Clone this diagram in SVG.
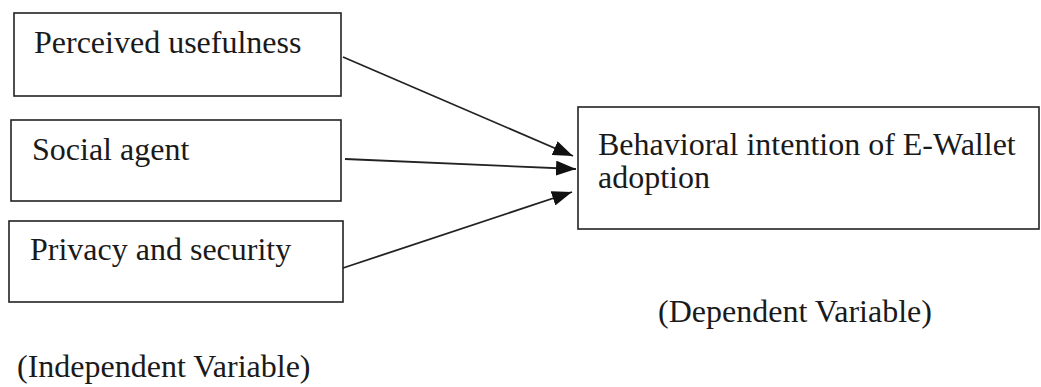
<svg xmlns="http://www.w3.org/2000/svg" width="1041" height="387" viewBox="0 0 1041 387">
<style>
.box{fill:#fff;stroke:#222;stroke-width:1.6}
.t{font-family:"Liberation Serif","Times New Roman",serif;font-size:32px;fill:#1a1a1a}
.c{stroke:#222;stroke-width:1.8;fill:none}
</style>
<defs>
<marker id="ah" markerWidth="20" markerHeight="15" refX="20" refY="7.5" orient="auto" markerUnits="userSpaceOnUse">
<path d="M0,0 L20,7.5 L0,15 Z" fill="#111"/>
</marker>
</defs>
<rect width="1041" height="387" fill="#fff"/>
<g id="n1"><rect class="box" x="14" y="13" width="327" height="83"/><text class="t" x="34" y="53">Perceived usefulness</text></g>
<g id="n2"><rect class="box" x="11" y="120" width="330" height="81"/><text class="t" x="32" y="160">Social agent</text></g>
<g id="n3"><rect class="box" x="9" y="221" width="334" height="81"/><text class="t" x="30" y="260">Privacy and security</text></g>
<g id="n4"><rect class="box" x="578" y="107" width="461" height="122"/><text class="t"><tspan x="598" y="155">Behavioral intention of E-Wallet</tspan><tspan x="598" y="188">adoption</tspan></text></g>
<g id="l1"><text class="t" x="658" y="322">(Dependent Variable)</text></g>
<g id="l2"><text class="t" x="17" y="377">(Independent Variable)</text></g>
<g id="connectors">
<line class="c" x1="343" y1="57" x2="573" y2="156" marker-end="url(#ah)"/>
<line class="c" x1="345" y1="159" x2="576" y2="169" marker-end="url(#ah)"/>
<line class="c" x1="343" y1="268" x2="572" y2="192" marker-end="url(#ah)"/>
</g>
</svg>
